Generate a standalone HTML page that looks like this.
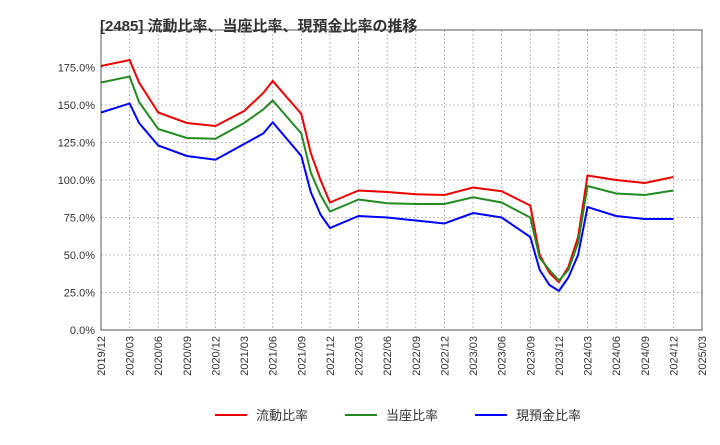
<!DOCTYPE html>
<html><head><meta charset="utf-8">
<style>
body{margin:0;background:#fff;font-family:"Liberation Sans","Noto Sans CJK JP",sans-serif;}
svg text{font-family:"Liberation Sans","Noto Sans CJK JP",sans-serif;}
</style></head>
<body>
<svg id="chart" width="720" height="440" xmlns="http://www.w3.org/2000/svg">
<text x="100" y="31" font-size="15" font-weight="bold" fill="#333">[2485]  流動比率、当座比率、現預金比率の推移</text>
<g id="grid"></g><g id="series"></g><g id="axes"></g>
<g>
<line x1="215" y1="415" x2="247" y2="415" stroke="#e00" stroke-width="2"/>
<text x="256" y="420" font-size="13" fill="#333">流動比率</text>
<line x1="345" y1="415" x2="377" y2="415" stroke="#228b22" stroke-width="2"/>
<text x="386" y="420" font-size="13" fill="#333">当座比率</text>
<line x1="475" y1="415" x2="507" y2="415" stroke="#00f" stroke-width="2"/>
<text x="516" y="420" font-size="13" fill="#333">現預金比率</text>
</g>
</svg>
<script>
const tickLabels=["2019/12","2020/03","2020/06","2020/09","2020/12","2021/03","2021/06","2021/09","2021/12","2022/03","2022/06","2022/09","2022/12","2023/03","2023/06","2023/09","2023/12","2024/03","2024/06","2024/09","2024/12","2025/03"];
const yTicks=[0,25,50,75,100,125,150,175];
// time in quarters since 2019/12
const times=[0,1,1.33,2,3,4,5,5.67,6,7,7.33,7.67,8,9,10,11,12,13,14,15,15.33,15.67,16,16.33,16.67,17,18,19,20];
const currentRatio=[176,180,165,145,138,136,146,158,166,144,118,100,85,93,92,90.5,90,95,92.5,83,50,38,32,42,62,103,100,98,102];
const quickRatio=[165,169,152,134,128,127.5,138,147,153,131,105,90,79,87,84.5,84,84,88.5,85,75,48,40,33,40,58,96,91,90,93];
const cashRatio=[145,151,138,123,116,113.5,124,131,138.5,116,92,77,68,76,75,73,71,78,75,62,40,30,26,35,50,82,76,74,74];
const L=101,R=702,T=30,B=330,NS="http://www.w3.org/2000/svg";
const xs=t=>L+(R-L)*t/21, ys=v=>B-(B-T)*v/200;
function mk(tag,attrs,parent){const e=document.createElementNS(NS,tag);for(const k in attrs)e.setAttribute(k,attrs[k]);document.getElementById(parent).appendChild(e);return e;}
yTicks.forEach(v=>{
 const g=mk('line',{x1:L,x2:R,y1:ys(v),y2:ys(v),stroke:'#aaa','stroke-dasharray':'2,2','stroke-width':0.8},'grid');
 
 const t=mk('text',{x:L-6,y:ys(v)+4,'text-anchor':'end','font-size':11,fill:'#333'},'axes');
 
 t.textContent=v.toFixed(1)+'%';
});
tickLabels.forEach((lab,i)=>{
 const x=xs(i);
 if(i>0&&i<21){const g=mk('line',{x1:x,x2:x,y1:T,y2:B,stroke:'#aaa','stroke-dasharray':'2,2','stroke-width':0.8},'grid');
 }
 const t=mk('text',{x:x+4,y:B+6,'text-anchor':'end','font-size':11,fill:'#333',transform:`rotate(-90 ${x+4} ${B+6})`},'axes');
 
 t.textContent=lab;
});
const fr=mk('rect',{x:L,y:T,width:R-L,height:B-T,fill:'none',stroke:'#333','stroke-width':0.8},'axes');

[[currentRatio,'#e00','current-ratio-line'],[quickRatio,'#228b22','quick-ratio-line'],[cashRatio,'#00f','cash-ratio-line']].forEach(([d,c,n])=>{
 const p=mk('polyline',{points:d.map((v,i)=>xs(times[i])+','+ys(v)).join(' '),fill:'none',stroke:c,'stroke-width':2},'series');
 
});
</script>
</body></html>
